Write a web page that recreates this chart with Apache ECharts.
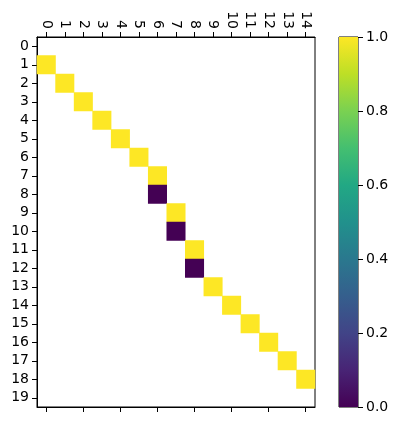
<!DOCTYPE html>
<html>
<head>
<meta charset="utf-8">
<script src="https://cdn.jsdelivr.net/npm/echarts@6/dist/echarts.min.js"></script>
<style>
    html, body { margin: 0; padding: 0; background: #fff; }
    #chart { width: 399px; height: 425px; }
</style>
</head>
<body>
<div id="chart"></div>
<script>
// tick labels
const colLabels = ['0', '1', '2', '3', '4', '5', '6', '7', '8', '9', '10', '11', '12', '13', '14']
const rowLabels = ['0', '1', '2', '3', '4', '5', '6', '7', '8', '9', '10', '11', '12', '13', '14', '15', '16', '17', '18', '19']
const colorbarTicks = [0.0, 0.2, 0.4, 0.6, 0.8, 1.0]

// filled cells (everything else is empty)
const cellRows = [1, 2, 3, 4, 5, 6, 7, 8, 9, 10, 11, 12, 13, 14, 15, 16, 17, 18]
const cellCols = [0, 1, 2, 3, 4, 5, 6, 6, 7, 7, 8, 8, 9, 10, 11, 12, 13, 14]
const cellValues = [1, 1, 1, 1, 1, 1, 1, 0, 1, 0, 1, 0, 1, 1, 1, 1, 1, 1]

const viridis = ['#440154', '#482475', '#414487', '#355f8d', '#2a788e', '#21918c',
    '#22a884', '#44bf70', '#7ad151', '#bddf26', '#fde725']

const textColor = '#000'
const fontFamily = 'DejaVu Sans'

const heatData = cellValues.map((v, i) => [cellCols[i], cellRows[i], v])

// colorbar gradient, top = 1.0
const gradientStops = viridis.map((c, i) => ({ offset: 1 - i / (viridis.length - 1), color: c }))

const chartInstance = echarts.init(document.getElementById('chart'), null, { renderer: 'canvas' })

chartInstance.setOption({
    animation: false,
    textStyle: { fontFamily: fontFamily },
    grid: [
        { left: 37, top: 37, width: 278, height: 370, show: true, borderColor: '#000', borderWidth: 1, backgroundColor: 'transparent' },
        { left: 339, top: 37, width: 19, height: 370, show: true, borderColor: '#000', borderWidth: 1, backgroundColor: 'transparent' }
    ],
    xAxis: [
        {
            type: 'category', data: colLabels, gridIndex: 0, position: 'top',
            axisLine: { show: true, lineStyle: { color: '#000', width: 1 } },
            axisTick: { show: true, alignWithLabel: true, length: 5, lineStyle: { color: '#000' } },
            axisLabel: { show: true, rotate: 90, color: textColor, fontSize: 14, margin: 8, fontFamily: fontFamily },
            splitLine: { show: false }
        },
        {
            type: 'category', data: colLabels, gridIndex: 0, position: 'bottom',
            axisLine: { show: true, lineStyle: { color: '#000', width: 1 } },
            axisTick: { show: true, alignWithLabel: true, length: 5, lineStyle: { color: '#000' } },
            axisLabel: { show: false },
            splitLine: { show: false }
        },
        {
            type: 'category', data: ['c'], gridIndex: 1,
            axisLine: { show: false }, axisTick: { show: false }, axisLabel: { show: false }
        }
    ],
    yAxis: [
        {
            type: 'category', data: rowLabels, gridIndex: 0, inverse: true,
            axisLine: { show: true, lineStyle: { color: '#000', width: 1 } },
            axisTick: { show: true, alignWithLabel: true, length: 5, lineStyle: { color: '#000' } },
            axisLabel: { show: true, color: textColor, fontSize: 14, margin: 8, fontFamily: fontFamily },
            splitLine: { show: false }
        },
        {
            type: 'value', gridIndex: 1, position: 'right', min: 0, max: 1, interval: 0.2,
            axisLine: { show: false },
            axisTick: { show: true, length: 5, lineStyle: { color: '#000' } },
            axisLabel: {
                show: true, color: textColor, fontSize: 14, margin: 8, fontFamily: fontFamily,
                formatter: (v) => v.toFixed(1)
            },
            splitLine: { show: false }
        }
    ],
    visualMap: {
        show: false,
        seriesIndex: 0,
        min: 0,
        max: 1,
        inRange: { color: viridis }
    },
    series: [
        {
            type: 'heatmap',
            xAxisIndex: 0,
            yAxisIndex: 0,
            data: heatData,
            emphasis: { disabled: true },
            itemStyle: { borderWidth: 0 }
        },
        {
            type: 'bar',
            xAxisIndex: 2,
            yAxisIndex: 1,
            data: [colorbarTicks[colorbarTicks.length - 1]],
            barWidth: '100%',
            silent: true,
            itemStyle: {
                color: new echarts.graphic.LinearGradient(0, 0, 0, 1, gradientStops)
            }
        }
    ]
})
</script>
</body>
</html>
